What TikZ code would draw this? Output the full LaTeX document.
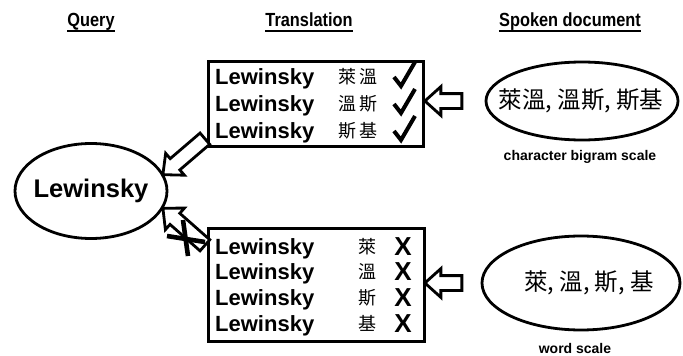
\documentclass[tikz,border=0pt]{standalone}
\usepackage{fontspec}
\setmainfont{Liberation Sans}
\newfontfamily\narrowsans{Liberation Sans}[FakeStretch=0.86]
\newfontfamily\cjk{Noto Sans CJK TC}
\usetikzlibrary{shapes.geometric,shapes.arrows,calc}
\begin{document}
\begin{tikzpicture}[x=1pt,y=-1pt,
  title/.style={font=\narrowsans\fontsize{19}{20}\selectfont\bfseries, inner sep=0pt, anchor=base},
  lew/.style={font=\fontsize{22}{24}\selectfont\bfseries, inner sep=0pt, anchor=base west},
  zh/.style={font=\cjk\fontsize{18}{20}\selectfont, inner sep=0pt, anchor=base},
  zhbig/.style={font=\cjk\fontsize{23.5}{25}\selectfont, inner sep=0pt},
  captext/.style={font=\fontsize{14}{16}\selectfont\bfseries, inner sep=0pt},
  xmark/.style={font=\fontsize{26}{27}\selectfont\bfseries, inner sep=0pt, anchor=base},
  frame/.style={draw, line width=3pt},
  oval/.style={draw, ellipse, line width=2.8pt, inner sep=0pt},
  harrow/.style={draw, fill=white, single arrow, line width=2.8pt, inner sep=6pt,
    single arrow head extend=7pt, single arrow tip angle=84},
  tickline/.style={line width=4pt, line join=miter, line cap=butt},
  crossline/.style={line width=4.6pt}
]
\useasboundingbox[fill=white] (0,0) rectangle (683,356);

% titles
\node[title] (tq) at (91,27) {Query};
\node[title] (tt) at (309,27) {Translation};
\node[title] (ts) at (570,27) {Spoken document};
\foreach \t in {tq,tt,ts}
  \draw[line width=1.5pt] ($(\t.base west)+(0,4)$) -- ($(\t.base east)+(0,4)$);

% query ellipse
\node[oval, minimum width=152pt, minimum height=95pt] (q) at (91,191) {};
\node[inner sep=0pt, font=\fontsize{25.5}{27}\selectfont\bfseries] (qt) at (q.center) {Lewinsky};

% top box
\draw[frame] (208,61) rectangle (423,146);
\node[lew] (l1) at (215,84) {Lewinsky};
\node[lew] (l2) at (215,111) {Lewinsky};
\node[lew] (l3) at (215,138) {Lewinsky};
\node[zh] (z1) at (358,83) {萊\,溫};
\node[zh] (z2) at (358,110) {溫\,斯};
\node[zh] (z3) at (358,137) {斯\,基};
\foreach \yc in {76,103,130}
  \draw[tickline] (394,\yc+1) -- (401,\yc+10) -- (415,\yc-14);

% bottom box
\draw[frame] (208,228) rectangle (424,341);
\node[lew] (m1) at (215,254) {Lewinsky};
\node[lew] (m2) at (215,279) {Lewinsky};
\node[lew] (m3) at (215,305) {Lewinsky};
\node[lew] (m4) at (215,331) {Lewinsky};
\node[zh] (w1) at (367,253) {萊};
\node[zh] (w2) at (367,278) {溫};
\node[zh] (w3) at (367,304) {斯};
\node[zh] (w4) at (367,330) {基};
\node[xmark] (x1) at (403,255) {X};
\node[xmark] (x2) at (403,280) {X};
\node[xmark] (x3) at (403,306) {X};
\node[xmark] (x4) at (403,332) {X};

% spoken document ellipses
\node[oval, minimum width=192pt, minimum height=78pt] (s1) at (582,101) {};
\node[zhbig] (s1t) at (581,101) {萊溫, 溫斯, 斯基};
\node[captext] (c1) at (580,157) {character bigram scale};
\node[oval, minimum width=198pt, minimum height=94pt] (s2) at (581,283) {};
\node[zhbig] (s2t) at (589,283) {萊, 溫, 斯, 基};
\node[captext] (c2) at (575,348) {word scale};

% arrow end points
\coordinate (a1s) at (466,101); \coordinate (a1e) at (429,101);
\coordinate (a2s) at (466,283); \coordinate (a2e) at (429,283);
\coordinate (a3s) at (208,136); \coordinate (a3e) at (166,172);
\coordinate (a4s) at (208,248); \coordinate (a4e) at (166,211);

\foreach \s/\e in {a1s/a1e,a2s/a2e,a3s/a3e,a4s/a4e}
  \path let \p1=($(\e)-(\s)$), \n1={atan2(\y1,\x1)}, \n2={veclen(\x1,\y1)} in
    node[harrow, rotate=\n1, minimum height=\n2] at ($(\s)!0.5!(\e)$) {};

% cross over the lower arrow
\draw[crossline] (167,236) -- (205,242);
\draw[crossline] (183,220) -- (188,256);
\end{tikzpicture}
\end{document}
